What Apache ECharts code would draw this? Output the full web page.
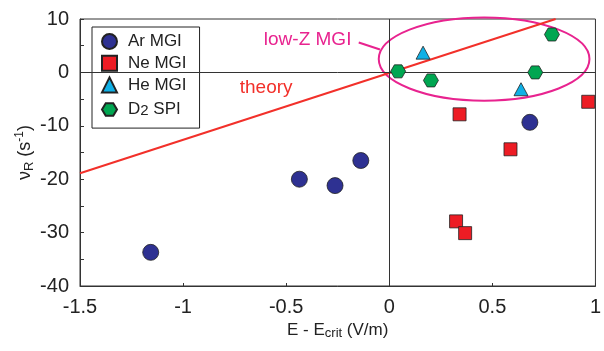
<!DOCTYPE html>
<html>
<head>
<meta charset="utf-8">
<style>
  html, body { margin: 0; padding: 0; background: #fff; }
  #chart { width: 604px; height: 351px; }
</style>
<script src="https://cdn.jsdelivr.net/npm/echarts@6/dist/echarts.min.js"></script>
</head>
<body>
<div id="chart"></div>
<script>
// Runaway growth rate vs. distance from the critical field
const arX = [-1.157, -0.436, -0.263, -0.138, 0.682];
const arY = [-33.7, -20.0, -21.2, -16.5, -9.35];
const neX = [0.324, 0.368, 0.341, 0.588, 0.965];
const neY = [-27.9, -30.1, -7.85, -14.4, -5.5];
const heX = [0.164, 0.639];
const heY = [3.7, -3.15];
const d2X = [0.043, 0.202, 0.708, 0.789];
const d2Y = [0.2, -1.5, 0.0, 7.1];
// theory line end points
const theoryX = [-1.5, 0.807];
const theoryY = [-18.9, 10];
const xTicks = [-1.5, -1, -0.5, 0, 0.5, 1];
const yTicks = [10, 0, -10, -20, -30, -40];

const FONT = '"Liberation Sans", Arial, Helvetica, sans-serif';
const zip = (xs, ys) => xs.map((x, i) => [x, ys[i]]);
const hexagon = 'path://M0,5 L3,0 L9,0 L12,5 L9,10 L3,10 Z';

const chart = echarts.init(document.getElementById('chart'), null, { renderer: 'canvas' });

const markerBorder = { borderColor: '#222', borderWidth: 0.8, opacity: 1 };

const option = {
  animation: false,
  backgroundColor: '#fff',
  textStyle: { fontFamily: FONT },
  grid: {
    left: 80, right: 2, top: 19, bottom: 65,
    show: true, borderColor: '#333', borderWidth: 1
  },
  xAxis: {
    type: 'value',
    min: xTicks[0], max: xTicks[xTicks.length - 1], interval: 0.5,
    axisLine: { show: true, onZero: false, lineStyle: { color: '#333', width: 1 } },
    axisTick: { show: true, inside: true, length: 3, lineStyle: { color: '#333' } },
    splitLine: { show: false },
    axisLabel: { color: '#222', fontSize: 20, fontFamily: FONT, margin: 11 },
    name: '{a|E - E}{sub|crit}{a| (V/m)}',
    nameLocation: 'middle',
    nameGap: 34,
    nameMoveOverlap: false,
    nameTextStyle: {
      rich: {
        a: { fontSize: 17, fontFamily: FONT, color: '#222', lineHeight: 20 },
        sub: { fontSize: 13, fontFamily: FONT, color: '#222', lineHeight: 20, verticalAlign: 'bottom', padding: [6, 0, 0, 0] }
      }
    }
  },
  yAxis: {
    type: 'value',
    min: yTicks[yTicks.length - 1], max: yTicks[0], interval: 10,
    axisLine: { show: true, onZero: false, lineStyle: { color: '#333', width: 1 } },
    axisTick: { show: true, inside: true, length: 4, lineStyle: { color: '#333' } },
    minorTick: { show: true, splitNumber: 2, length: 4, lineStyle: { color: '#333' } },
    splitLine: { show: false },
    axisLabel: { color: '#222', fontSize: 20, fontFamily: FONT, margin: 11 },
    name: '{a|ν}{sub|R}{a| (s}{sup|-1}{a|)}',
    nameLocation: 'middle',
    nameRotate: 90,
    nameGap: 44,
    nameMoveOverlap: false,
    nameTextStyle: {
      rich: {
        a: { fontSize: 18, fontFamily: FONT, color: '#222', lineHeight: 22 },
        sub: { fontSize: 13, fontFamily: FONT, color: '#222', lineHeight: 22, verticalAlign: 'bottom', padding: [7, 0, 0, 0] },
        sup: { fontSize: 12, fontFamily: FONT, color: '#222', lineHeight: 22, verticalAlign: 'top', padding: [0, 0, 8, 0] }
      }
    }
  },
  legend: {
    orient: 'vertical',
    left: 92, top: 27,
    backgroundColor: '#fff',
    borderColor: '#222', borderWidth: 1, borderRadius: 0,
    padding: [6, 13, 10, 9],
    itemWidth: 15, itemHeight: 15, itemGap: 4.7,
    data: ['Ar MGI', 'Ne MGI', 'He MGI', 'D2 SPI'],
    formatter: name => name === 'D2 SPI' ? '{t|D}{s|2}{t| SPI}' : '{t|' + name + '}',
    textStyle: {
      padding: [0, 0, 0, 6],
      rich: {
        t: { fontSize: 17, fontFamily: FONT, color: '#222', lineHeight: 17 },
        s: { fontSize: 15, fontFamily: FONT, color: '#222', lineHeight: 17, verticalAlign: 'bottom', padding: [5, 0, 0, 0] }
      }
    }
  },
  series: [
    {
      name: 'zero lines', type: 'line', data: [], silent: true,
      markLine: {
        silent: true, symbol: 'none', animation: false,
        label: { show: false },
        lineStyle: { color: '#333', width: 1, type: 'solid' },
        data: [{ xAxis: 0 }, { yAxis: 0 }]
      },
      z: 1
    },
    {
      name: 'theory', type: 'line', data: zip(theoryX, theoryY),
      showSymbol: false, symbol: 'none',
      lineStyle: { color: '#f2302a', width: 2 }, z: 3
    },
    {
      name: 'Ar MGI', type: 'scatter', data: zip(arX, arY),
      symbol: 'circle', symbolSize: 16,
      itemStyle: Object.assign({ color: '#2e3192' }, markerBorder), z: 5
    },
    {
      name: 'Ne MGI', type: 'scatter', data: zip(neX, neY),
      symbol: 'rect', symbolSize: 13,
      itemStyle: Object.assign({ color: '#ed1c24' }, markerBorder), z: 5
    },
    {
      name: 'He MGI', type: 'scatter', data: zip(heX, heY),
      symbol: 'triangle', symbolSize: [14, 13],
      itemStyle: Object.assign({ color: '#0fb0e6' }, markerBorder), z: 5
    },
    {
      name: 'D2 SPI', type: 'scatter', data: zip(d2X, d2Y),
      symbol: hexagon, symbolSize: [15, 13],
      itemStyle: Object.assign({ color: '#00a651' }, markerBorder), z: 5
    }
  ]
};

chart.setOption(option);

// Annotations placed in data coordinates
const toPx = p => chart.convertToPixel({ gridIndex: 0 }, p);
const ellCenter = [0.46, 2.5];
const ellRadius = [0.511, 7.8];
const c = toPx(ellCenter);
const ex = toPx([ellCenter[0] + ellRadius[0], ellCenter[1]]);
const ey = toPx([ellCenter[0], ellCenter[1] + ellRadius[1]]);
const theoryPos = toPx([-0.597, -2.93]);
const lowZPos = toPx([-0.396, 6.2]);
const connA = toPx([-0.148, 5.6]);
const connB = toPx([-0.045, 4.3]);

chart.setOption({
  graphic: [
    {
      type: 'ellipse', z: 2, silent: true,
      shape: { cx: c[0], cy: c[1], rx: ex[0] - c[0], ry: c[1] - ey[1] },
      style: { fill: 'none', stroke: '#e8238f', lineWidth: 2 }
    },
    {
      type: 'line', z: 2, silent: true,
      shape: { x1: connA[0], y1: connA[1], x2: connB[0], y2: connB[1] },
      style: { stroke: '#e8238f', lineWidth: 2 }
    },
    {
      type: 'text', z: 4, silent: true,
      x: theoryPos[0], y: theoryPos[1],
      style: { text: 'theory', fill: '#f2302a', font: '19px ' + FONT, align: 'center', verticalAlign: 'middle' }
    },
    {
      type: 'text', z: 4, silent: true,
      x: lowZPos[0], y: lowZPos[1],
      style: { text: 'low-Z MGI', fill: '#e8238f', font: '19px ' + FONT, align: 'center', verticalAlign: 'middle' }
    }
  ]
});
</script>
</body>
</html>
